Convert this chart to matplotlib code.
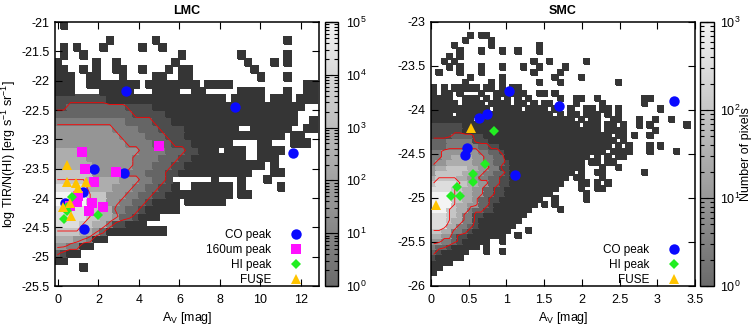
import numpy as np
import matplotlib
matplotlib.use("Agg")
from matplotlib import pyplot as plt
from matplotlib.colors import LogNorm, LinearSegmentedColormap
from matplotlib.cm import ScalarMappable

plt.rcParams["font.family"] = ["Liberation Sans", "DejaVu Sans"]
plt.rcParams["font.size"] = 9
plt.rcParams["axes.unicode_minus"] = False

# 2D histograms, one string per row from top to bottom.
# '.' = empty cell, digits 1..9 = log count level (9 = colour bar maximum)
LMC_X0, LMC_DX = -0.2, 0.325
LMC_Y0, LMC_DY = -21.0, 0.125
LMC_LOGMAX = 5
lmc_rows = [
    ".1........" ".........." ".........." "..........",
    ".........." ".........." ".........." "..........",
    "........1." ".....1...." ".........." ".....1....",
    ".1.1...1.." "...1..1..." ".........." "..........",
    ".1..1....." ".........1" "........1." ".....1....",
    "1.....1..1" "........1." ".........1" "...1.1....",
    "11..1.1..1" "1..1...1.1" "1........." "1.........",
    "111..11..." "1....11..1" "1........." ".1...1....",
    "111..11111" "111.111111" "11.1111..." "........11",
    "111....111" "11...1111." ".11.....11" "11...1..11",
    "2222222211" "1111111111" "111111.111" "11.111.111",
    "2233333333" "3222211111" "1111111111" "11111111..",
    "3333333333" "3322222111" "1111111111" "1111111...",
    "4444444444" "4333322211" "1111111111" "1111111..1",
    "5555555554" "4443332222" "11111111.." "111111..11",
    "5555555555" "4444333222" "1111111111" "11111.11..",
    "5555555555" "5444433322" "2111111..." ".11...111.",
    "6666655555" "5554444333" "22111.111." ".1111.....",
    "6666655555" "5544443332" "211111111." ".111......",
    "6666665555" "5544433322" "1111111111" "11.1......",
    "7777775555" "5444333221" "1111111111" "...11.....",
    "7777766666" "55544332.." "....1...1." "..1.......",
    "8888866665" "554433221." ".111111.1." "....1.....",
    "9999977755" "5443322111" "1111111.11" "..........",
    "9999977755" "443321111." "111111...." "..........",
    "8888877664" "433211111." ".........." "..........",
    "8888877665" "332111...." ".........." "..........",
    "8888776642" "2111......" ".........." "..........",
    "7777665311" "1111111..." ".........." "..........",
    "66655411.." ".........." ".........." "..........",
    "554411...." ".........." ".........." "..........",
    "3211......" ".........." ".........." "..........",
    "11........" ".........." ".........." "..........",
    "....1....." ".........." ".........." "..........",
    ".........." ".........." ".........." "..........",
    ".........." ".........." ".........." "..........",
]

SMC_X0, SMC_DX = 0.0, 0.07
SMC_Y0, SMC_DY = -23.0, 0.06
SMC_LOGMAX = 3
smc_rows = [
    ".........." ".........." ".........." ".........." "..........",
    ".........." ".........." ".........." ".........." "..........",
    ".......1.1" "1........." ".........." ".........." "..........",
    "......1..." ".1........" ".........." ".........." "..........",
    "....1....." ".1........" "1........." ".........." "..........",
    ".....1...1" "...1..1..." "1........." ".........." "..........",
    "...1.1...." ".........." ".........." ".........." "..........",
    "..1.1....." ".........1" "..1......1" ".........." "..........",
    "...1.1...1" "...1...1.." "1....1...." ".........." "..........",
    ".1...1...1" ".........1" "....1....." ".........." "..........",
    ".......1.." "...1......" "...1....1." ".........." "..........",
    "......1..." ".1.1......" "1...1....." ".....1...." "..........",
    "1.1.11111." "11.1.11..." ".........." ".........." "..........",
    "1.11.1...1" "..111111.." "11.1......" ".........." "..........",
    "1111..111." "1.1.1.1.1." "....1..11." ".1........" "11........",
    "11111.1111" ".1111.11.1" ".11....1.." "..1......." "1.........",
    "1111111111" "1.11111.11" "11.1..1..1" "1.11.1...." "...1......",
    "1111.11111" ".111111111" "111.1.11.1" "11.1.1...." "..........",
    "11111111.1" "1111111111" "1111111.1." "11..11...1" "..1..1....",
    "2222221111" "1111111111" "11111111.1" "11.11.1..1" ".1......1.",
    "2222221111" "1111111111" "1111111111" "11.1111..." "..1.......",
    "2222333322" "1111111111" "1111111111" "1111.11.1." ".1........",
    "3334444422" "2111111111" "1111111111" "11111.1..." "..........",
    "3334444443" "3221111111" "1111111111" "1111.1.1.." ".1.1......",
    "4455555554" "4332111111" "1111111111" "111.1111.." ".1....1...",
    "4455666655" "4433111111" "1111111111" ".1.1.11..." "..........",
    "4556666655" "4433211111" "111111111." "11.11....." "..........",
    "5667777665" "5442211111" "111111111." "..1..1...." "..........",
    "5777776655" "4433211111" "1111111.1." ".11......." "1.........",
    "6777766554" "4332211111" "111111.11." "..1......." "..........",
    "7888877665" "5332211111" "11111...11" ".1.1......" "..........",
    "8888776655" "3322111111" "1111....1." ".11......." "..........",
    "9999776655" "3322111111" "111......1" ".........." "..........",
    "9999776653" "3221111111" "1..1.....1" ".........." "..........",
    "9999766553" "3211111111" ".1.1......" ".........." "..........",
    "9997766433" "221111111." "....1....." ".........." "..........",
    "8887764422" "11111111.." ".........." ".........." "..........",
    "8887664421" "1111111..." ".........." ".........." "..........",
    "8886644321" "111111...." ".........." ".........." "..........",
    "7766443211" "11111...1." ".........." ".........." "..........",
    "6655322111" "1111..1..." ".........." ".........." "..........",
    "5544321111" "1..1......" ".........." ".........." "..........",
    "433211111." "1........." ".........." ".........." "..........",
    "3211111..." "1..1......" ".........." ".........." "..........",
    "211111...." ".........." ".........." ".........." "..........",
    "1111......" ".........." ".........." ".........." "..........",
    "11........" ".........." ".........." ".........." "..........",
    "1........." ".........." ".........." ".........." "..........",
    ".........." ".........." ".........." ".........." "..........",
    ".........." ".........." ".........." ".........." "..........",
]

# peak positions (A_V, log TIR/N(HI))
lmc_co_x = [3.34, 8.77, 11.6, 1.80, 3.26, 1.25, 1.30, 0.35]
lmc_co_y = [-22.17, -22.45, -23.24, -23.50, -23.57, -23.89, -24.53, -24.09]
lmc_160_x = [5.0, 1.2, 1.32, 2.88, 1.78, 1.0, 0.95, 1.66, 1.53, 2.2, 0.59]
lmc_160_y = [-23.12, -23.22, -23.50, -23.56, -23.72, -23.97, -24.06, -24.09, -24.22, -24.15, -24.14]
lmc_hi_x = [0.67, 1.96, 0.43, 0.31, 0.45]
lmc_hi_y = [-23.99, -24.29, -24.23, -24.36, -24.15]
lmc_fuse_x = [0.43, 0.43, 0.89, 1.38, 1.0, 0.59, 0.26, 0.63]
lmc_fuse_y = [-23.43, -23.72, -23.75, -23.73, -23.83, -24.08, -24.15, -24.30]

smc_co_x = [1.03, 1.70, 0.64, 0.74, 0.48, 0.445, 1.11, 3.22]
smc_co_y = [-23.78, -23.95, -24.09, -24.05, -24.43, -24.51, -24.74, -23.90]
smc_hi_x = [0.83, 0.71, 0.56, 0.56, 0.34, 0.27, 0.38]
smc_hi_y = [-24.24, -24.61, -24.73, -24.82, -24.87, -24.98, -24.98]
smc_fuse_x = [0.53, 0.07]
smc_fuse_y = [-24.21, -25.08]

data_cmap = LinearSegmentedColormap.from_list("cells", ["#353535", "#f4f4f4"])
bar_cmap = LinearSegmentedColormap.from_list("bar", ["#6a6a6a", "#f4f4f4"])


def parse_rows(rows, logmax):
    """Turn the level strings into counts, bottom row first"""
    grid = np.full((len(rows), len(rows[0])), np.nan)
    for i, row in enumerate(rows):
        for j, ch in enumerate(row):
            if ch != ".":
                grid[i, j] = 10 ** ((int(ch) - 1) * logmax / 8)
    return grid[::-1]


def draw_hist(ax, rows, x0, dx, y0, dy, logmax, contour_levels):
    counts = parse_rows(rows, logmax)
    ny, nx = counts.shape
    xe = x0 + dx * np.arange(nx + 1)
    ye = y0 - dy * ny + dy * np.arange(ny + 1)
    norm = LogNorm(vmin=1, vmax=10 ** logmax)
    ax.pcolormesh(xe, ye, np.ma.masked_invalid(counts), cmap=data_cmap, norm=norm,
                  edgecolors="face", linewidth=0.2, zorder=1)
    xc = 0.5 * (xe[1:] + xe[:-1])
    yc = 0.5 * (ye[1:] + ye[:-1])
    z = np.where(np.isnan(counts), -1.0, np.log10(counts))
    ax.contour(xc, yc, z, levels=contour_levels, colors="red", linewidths=0.6, zorder=2)
    return norm


def style_axes(ax):
    ax.tick_params(which="both", direction="in", top=True, right=True, length=5, width=0.8)
    ax.tick_params(axis="x", pad=6)
    ax.tick_params(axis="y", pad=4)
    for s in ax.spines.values():
        s.set_linewidth(1.1)


def add_cbar(fig, rect, norm, pad, label=None):
    cax = fig.add_axes(rect)
    cb = fig.colorbar(ScalarMappable(norm=norm, cmap=bar_cmap), cax=cax)
    cb.outline.set_linewidth(1.0)
    cax.minorticks_on()
    cax.tick_params(which="both", direction="in", left=True, right=True, width=0.8)
    cax.tick_params(which="major", length=6, pad=pad)
    cax.tick_params(which="minor", length=3)
    if label:
        cb.set_label(label, labelpad=0)
    return cb


def plot_markers(ax, sets, anchor):
    for xs, ys, mk, col, ms, lab in sets:
        ax.plot(xs, ys, linestyle="none", marker=mk, color=col, markersize=ms,
                markeredgewidth=0, label=lab, zorder=3)
    ax.legend(loc="lower right", bbox_to_anchor=anchor, markerfirst=False, frameon=False,
              fontsize=8.5, handlelength=1.0, handletextpad=1.6, labelspacing=0.25,
              borderaxespad=0.2, borderpad=0.3)


fig = plt.figure(figsize=(7.53, 3.25), dpi=100)

# LMC panel
ax1 = fig.add_axes([55 / 753, 39 / 325, 264 / 753, 264 / 325])
norm1 = draw_hist(ax1, lmc_rows, LMC_X0, LMC_DX, LMC_Y0, LMC_DY, LMC_LOGMAX, [0.94, 2.19, 3.75])
plot_markers(ax1, [
    (lmc_co_x, lmc_co_y, "o", "#0a0aff", 7.5, "CO peak"),
    (lmc_160_x, lmc_160_y, "s", "#ff10ff", 7.0, "160um peak"),
    (lmc_hi_x, lmc_hi_y, "D", "#22ee22", 5.0, "HI peak"),
    (lmc_fuse_x, lmc_fuse_y, "^", "#ffc400", 6.5, "FUSE"),
], (0.958, -0.023))
ax1.set_xlim(-0.15, 12.9)
ax1.set_ylim(-25.5, -21)
ax1.set_xticks([0, 2, 4, 6, 8, 10, 12])
ax1.set_yticks(np.arange(-25.5, -20.9, 0.5))
ax1.set_yticklabels(["-25.5", "-25", "-24.5", "-24", "-23.5", "-23", "-22.5", "-22", "-21.5", "-21"])
ax1.set_xlabel("A$_\\mathregular{V}$ [mag]", labelpad=3)
ax1.set_ylabel("log TIR/N(HI) [erg s$^{\\mathregular{-1}}$ sr$^{\\mathregular{-1}}$]", labelpad=2)
ax1.set_title("LMC", fontweight="bold", fontsize=9, pad=6)
style_axes(ax1)
add_cbar(fig, [325 / 753, 39 / 325, 13 / 753, 264 / 325], norm1, 6)

# SMC panel
ax2 = fig.add_axes([431 / 753, 39 / 325, 264 / 753, 264 / 325])
norm2 = draw_hist(ax2, smc_rows, SMC_X0, SMC_DX, SMC_Y0, SMC_DY, SMC_LOGMAX, [0.56, 1.31, 2.25])
plot_markers(ax2, [
    (smc_co_x, smc_co_y, "o", "#0a0aff", 7.5, "CO peak"),
    (smc_hi_x, smc_hi_y, "D", "#22ee22", 5.0, "HI peak"),
    (smc_fuse_x, smc_fuse_y, "^", "#ffc400", 6.5, "FUSE"),
], (0.966, -0.023))
ax2.set_xlim(0, 3.5)
ax2.set_ylim(-26, -23)
ax2.set_xticks([0, 0.5, 1, 1.5, 2, 2.5, 3, 3.5])
ax2.set_xticklabels(["0", "0.5", "1", "1.5", "2", "2.5", "3", "3.5"])
ax2.set_yticks(np.arange(-26, -22.9, 0.5))
ax2.set_yticklabels(["-26", "-25.5", "-25", "-24.5", "-24", "-23.5", "-23"])
ax2.set_xlabel("A$_\\mathregular{V}$ [mag]", labelpad=3)
ax2.set_title("SMC", fontweight="bold", fontsize=9, pad=6)
style_axes(ax2)
add_cbar(fig, [700 / 753, 39 / 325, 14 / 753, 264 / 325], norm2, 4, "Number of pixels")

fig.savefig("out.png", dpi=100)
